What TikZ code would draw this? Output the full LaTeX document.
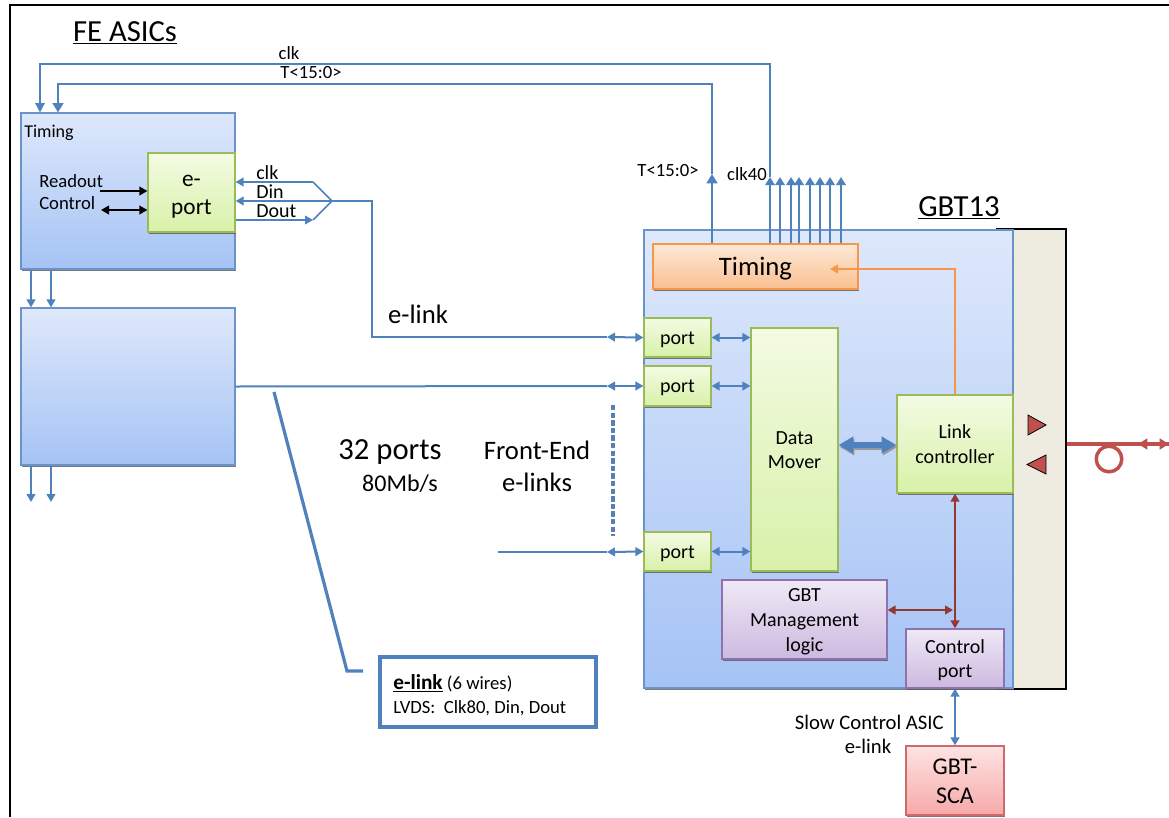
\documentclass[tikz,border=0pt]{standalone}
\usepackage{fontspec}
\setmainfont{Carlito}
\usetikzlibrary{arrows.meta,shadows}
\definecolor{lblue}{HTML}{4F81BD}
\definecolor{bTop}{HTML}{DEE8FB}
\definecolor{bBot}{HTML}{A5C3F5}
\definecolor{bBrd}{HTML}{6B93C9}
\definecolor{gTop}{HTML}{F3FBE3}
\definecolor{gBot}{HTML}{D8F1A8}
\definecolor{gBrd}{HTML}{9BBB59}
\definecolor{oTop}{HTML}{FDE8D7}
\definecolor{oBot}{HTML}{FAC090}
\definecolor{oBrd}{HTML}{F79646}
\definecolor{pTop}{HTML}{EFE9F6}
\definecolor{pBot}{HTML}{CDB9E0}
\definecolor{pBrd}{HTML}{8E72AE}
\definecolor{rTop}{HTML}{FFE3E3}
\definecolor{rBot}{HTML}{F6A9A9}
\definecolor{rBrd}{HTML}{D06A6A}
\definecolor{dred}{HTML}{953735}
\definecolor{fred}{HTML}{C0504D}
\definecolor{panelc}{HTML}{EEECE1}
\newcommand\wstrut{\vrule height 0.952em depth 0.269em width 0pt\relax}
\newcommand\mybx[7]{\node[#6,minimum width={(#4-#2)*0.75pt},minimum height={(#5-#3)*0.75pt}] (#1) at ({(#2+#4)/2},{(#3+#5)/2}) {\wstrut#7};}
\tikzset{
  every node/.append style={inner sep=0pt},
  shad/.style={drop shadow={shadow xshift=0.5pt,shadow yshift=-1.4pt,fill=black!65,opacity=0.8}},
  wtext/.style={align=center,execute at end node=\wstrut},
  bluebox/.style={shad,draw=bBrd,line width=0.9pt,top color=bTop,bottom color=bBot},
  greenbox/.style={shad,wtext,draw=gBrd,line width=0.9pt,top color=gTop,bottom color=gBot,font=\fontsize{15}{18.5}\selectfont},
  orangebox/.style={shad,wtext,draw=oBrd,line width=0.9pt,top color=oTop,bottom color=oBot,font=\fontsize{20}{24}\selectfont},
  purplebox/.style={shad,wtext,draw=pBrd,line width=0.9pt,top color=pTop,bottom color=pBot,font=\fontsize{15}{18.5}\selectfont},
  redbox/.style={shad,wtext,draw=rBrd,line width=0.9pt,top color=rTop,bottom color=rBot,font=\fontsize{18}{22}\selectfont},
  bl/.style={draw=lblue,line width=1.5pt},
  >={Triangle[length=6pt,width=6.5pt]},
  ft/.style={font=\fontsize{#1}{#1}\selectfont},
}
\begin{document}
\begin{tikzpicture}[x=0.75pt,y=-0.75pt]
\useasboundingbox (0,0) rectangle (1169,817);
% frame
\coordinate (fr1) at (10,817); \coordinate (fr2) at (10,5); \coordinate (fr3) at (1169,5);
\draw[black,line width=1.8pt] (fr1) -- (fr2) -- (fr3);

% titles
\node[ft=23] (fetitle) at (125,33) {\underline{FE ASICs}};
\node[ft=23] (gbttitle) at (959,208) {\underline{GBT13}};

% FE boxes
\mybx{fetop}{21}{113}{235}{269}{bluebox}{}
\node[ft=13.5,anchor=west] (ftim) at (24,133) {Timing};
\mybx{eport}{148}{153}{235}{232}{greenbox,font=\fontsize{17.5}{20.5}\selectfont}{e-\\port}
\mybx{febot}{21}{308}{235}{465}{bluebox}{}
\node[ft=14,anchor=west] (ro) at (39,181) {Readout};
\node[ft=14,anchor=west] (rc) at (39,203) {Control};
\coordinate (ro1) at (100,191);
\coordinate (rc1) at (101,210);
\draw[black,line width=1.2pt,->] (ro1) -- (ro1 -| eport.west);
\draw[black,line width=1.2pt,<->] (rc1) -- (rc1 -| eport.west);

% clk Din Dout
\coordinate (j) at (332,201);
\coordinate (ck) at (313,182);
\coordinate (dt) at (313,220);
\draw[bl,line width=1.3pt,->] (ck) -- (ck -| eport.east);
\draw[bl,line width=1.3pt] (ck) -- (j);
\draw[bl,line width=1.3pt,->] (j) -- (j -| eport.east);
\draw[bl,line width=1.3pt,->] (dt -| eport.east) -- (dt);
\draw[bl,line width=1.3pt] (dt) -- (j);
\node[ft=15,anchor=west] (lclk) at (256,173) {clk};
\node[ft=15,anchor=west] (ldin) at (256,192) {Din};
\node[ft=15,anchor=west] (ldout) at (256,211) {Dout};

% FE vertical arrows
\foreach \x in {31,51}{
  \coordinate (va\x) at (\x,502);
  \draw[bl,line width=1.8pt,->] (va\x |- fetop.south) -- (va\x |- febot.north);
  \draw[bl,line width=1.8pt,->] (va\x |- febot.south) -- (va\x);
}

% GBT
\mybx{panel}{997}{229}{1066}{689}{fill=panelc,draw=black,line width=0.8pt}{}
\mybx{gbt}{644}{230}{1013}{688}{bluebox}{}
\mybx{gtim}{653}{244}{858}{289}{orangebox}{Timing}
\mybx{p1}{644}{318}{711}{357}{greenbox}{port}
\mybx{p2}{644}{366}{711}{406}{greenbox}{port}
\mybx{p3}{644}{532}{711}{571}{greenbox}{port}
\mybx{dm}{751}{328}{838}{571}{greenbox}{Data\\Mover}
\mybx{lc}{897}{395}{1013}{493}{greenbox}{Link\\controller}
\mybx{mgmt}{722}{580}{887}{659}{purplebox}{GBT\\Management\\logic}
\mybx{cp}{906}{629}{1004}{688}{purplebox}{Control\\port}
\mybx{sca}{906}{746}{1004}{815}{redbox}{GBT-\\SCA}

% T<15:0> and clk lines
\coordinate (tt) at (712,174);
\coordinate (t2) at (712,84);
\coordinate (t3) at (58,84);
\draw[bl,line width=2.2pt,-{Triangle[length=7pt,width=8pt]}] (tt |- gtim.north) -- (tt);
\draw[bl,line width=2.2pt,-{Triangle[length=7pt,width=8pt]}] (tt) -- (t2) -- (t3) -- (t3 |- fetop.north);
\coordinate (c0) at (770,177);
\coordinate (c1) at (770,64);
\coordinate (c2) at (40,64);
\draw[bl,line width=1.2pt,-{Triangle[length=7pt,width=7pt]}] (c0) -- (c1) -- (c2) -- (c2 |- fetop.north);
\foreach \x [count=\i] in {770,780,791,799,810,820,830,841}{
  \coordinate (ca\i) at (\x,177);
  \draw[bl,line width=1.5pt,-{Triangle[length=6pt,width=7pt]}] (ca\i |- gtim.north) -- (ca\i);
}
\node[ft=14] (ltop1) at (289,53) {clk};
\node[ft=14] (ltop2) at (311,73) {T<15:0>};
\node[ft=14] (lt) at (668,171) {T<15:0>};
\node[ft=14] (lc40) at (747,174) {clk40};

% e-link routes
\coordinate (e1) at (372,201);
\coordinate (e2) at (372,337);
\coordinate (e3) at (607,337);
\draw[bl] (j) -- (e1) -- (e2) -- (e3);
\draw[bl,<->] (e3) -- (p1.west);
\coordinate (q2) at (607,386);
\draw[bl] (febot.east) -- (q2);
\draw[bl,<->] (q2) -- (p2.west);
\coordinate (q3a) at (498,552);
\coordinate (q3) at (607,552);
\draw[bl] (q3a) -- (q3);
\draw[bl,<->] (q3) -- (p3.west);
\draw[bl,<->] (p1.east) -- (p1.east -| dm.west);
\draw[bl,<->] (p2.east) -- (p2.east -| dm.west);
\draw[bl,<->] (p3.east) -- (p3.east -| dm.west);
\node[ft=20] (elinklbl) at (418,314) {e-link};

% dotted
\coordinate (d1) at (613,405);
\coordinate (d2) at (613,535);
\draw[gray,line width=3pt,dash pattern=on 3.3pt off 2.4pt,transform canvas={xshift=0.3pt,yshift=-0.8pt}] (d1) -- (d2);
\draw[lblue,line width=3pt,dash pattern=on 3.3pt off 2.4pt] (d1) -- (d2);

% labels middle
\node[ft=23] (ports) at (390,452) {32 ports};
\node[ft=18] (rate) at (400,484) {80Mb/s};
\node[ft=20] (fe1) at (537,450) {Front-End};
\node[ft=20] (fe2) at (537,482) {e-links};

% slanted link to e-link box
\coordinate (s1) at (274,392);
\coordinate (s2) at (347,671);
\coordinate (s3) at (363,671);
\draw[bl,line width=2.4pt] (s1) -- (s2) -- (s3);
\mybx{elb}{380}{657}{596}{727}{draw=lblue,line width=2.6pt,fill=white}{}
\node[anchor=west,align=left,font=\fontsize{14}{18}\selectfont] (elt) at (393,695)
  {{\fontsize{16}{18}\selectfont\textbf{\underline{e-link}}} (6 wires)\\LVDS:\ \ Clk80, Din, Dout};

% block arrow
\coordinate (ba) at (0,445);
\draw[gray!80,line width=4.5pt,{Triangle[length=11pt,width=12pt]}-{Triangle[length=11pt,width=12pt]},transform canvas={xshift=0.8pt,yshift=-1.5pt}] (ba -| dm.east) -- (ba -| lc.west);
\draw[lblue,line width=4.5pt,{Triangle[length=11pt,width=12pt]}-{Triangle[length=11pt,width=12pt]}] (ba -| dm.east) -- (ba -| lc.west);

% orange
\coordinate (o1) at (955,269);
\coordinate (o2) at (830,269);
\draw[oBrd,line width=1.6pt,->] (lc.north) -- (o1) -- (o2);

% red control
\draw[dred,line width=1.6pt,<->] (lc.south) -- (cp.north);
\coordinate (m2) at (953,610);
\draw[dred,line width=1.6pt,<->] (m2 -| mgmt.east) -- (m2);
\draw[bl,line width=1.8pt,<->] (cp.south) -- (sca.north);
\node[ft=15.5,anchor=east] (slow1) at (944,722) {Slow Control ASIC};
\node[ft=15.5] (slow2) at (868,746) {e-link};

% triangles
\draw[fill=fred,draw=black,line width=0.6pt] (1028,415) -- (1046,425) -- (1028,435) -- cycle;
\draw[fill=fred,draw=black,line width=0.6pt] (1046,455) -- (1027,464.5) -- (1046,474) -- cycle;

% fiber
\coordinate (f1) at (0,444);
\coordinate (f2) at (1169,444);
\coordinate (f3) at (1138,444);
\draw[fred,line width=2.6pt] (panel.east |- f1) -- (f2);
\draw[fred,line width=2.6pt,{Triangle[length=7pt,width=8pt]}-{Triangle[length=7pt,width=8pt]}] (f3) -- (f2);
\draw[fred,line width=2.6pt] (1109,459) circle[radius=9.6pt];
\end{tikzpicture}
\end{document}
